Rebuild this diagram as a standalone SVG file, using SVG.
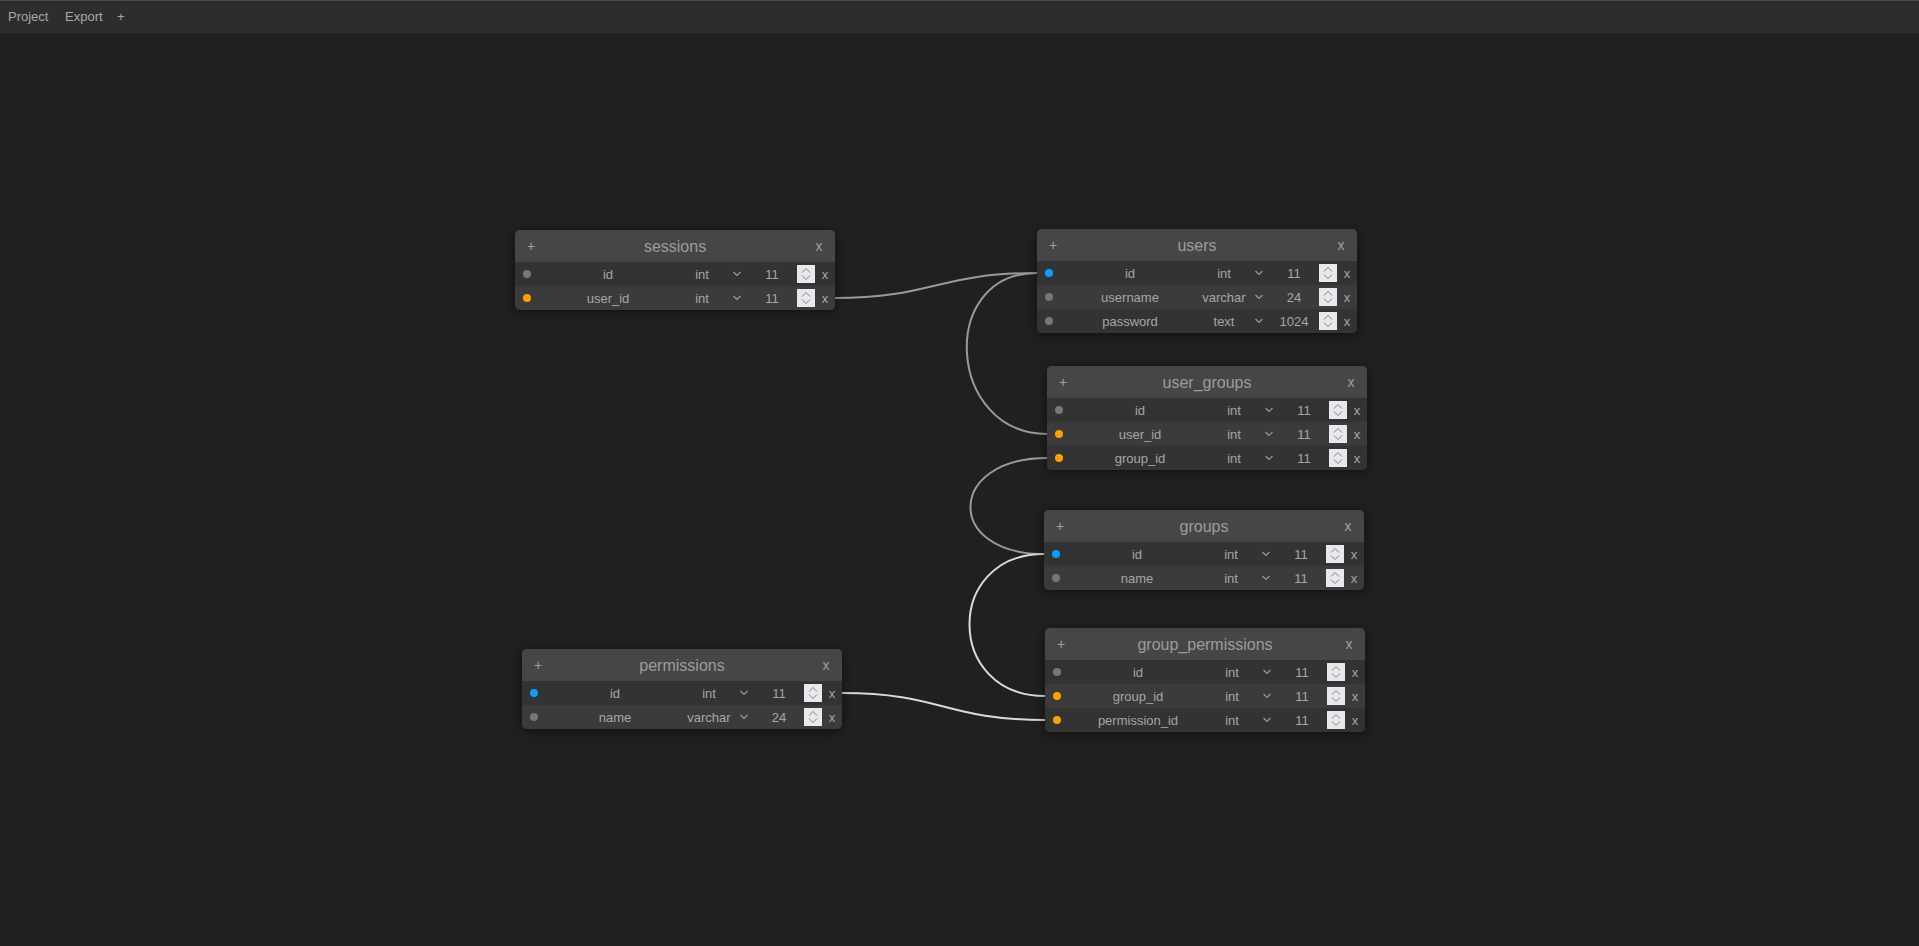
<svg xmlns="http://www.w3.org/2000/svg" xmlns:xlink="http://www.w3.org/1999/xlink" width="1919" height="946" viewBox="0 0 1919 946">
<style>
text{font-family:"Liberation Sans",Arial,sans-serif}
.bar{fill:#2d2d2d}
.menu{font-size:13px;fill:#a8a8a8}
.bg{fill:#3b3b3b}
.hdr{fill:#464646}
.odd{fill:#333333}
.title{font-size:16px;fill:#9c9c9c;text-anchor:middle}
.hx{font-size:14px;fill:#a0a0a0;text-anchor:middle}
.t{font-size:13px;fill:#a6a6a6;text-anchor:middle}
.g{fill:#777777}.b{fill:#0a9eff}.o{fill:#ffa000}
.chev{fill:none;stroke:#9a9a9a;stroke-width:1.2}
.link{fill:none;stroke-width:2}
.dim{stroke:#9a9a9a}.lit{stroke:#dadada}
</style>
<defs>
<filter id="sh" x="-20%" y="-30%" width="140%" height="160%">
<feDropShadow dx="0" dy="2" stdDeviation="6" flood-color="#000" flood-opacity="0.55"/>
</filter>
<clipPath id="c80" clipPathUnits="userSpaceOnUse"><rect x="0" y="0" width="320" height="80" rx="5"/></clipPath>
<clipPath id="c104" clipPathUnits="userSpaceOnUse"><rect x="0" y="0" width="320" height="104" rx="5"/></clipPath>
<g id="spin">
<rect x="0" y="0" width="18" height="18" fill="#e9e9ed"/>
<path d="M5,7.5 L9,3.5 L13,7.5 M5,10.5 L9,14.5 L13,10.5" fill="none" stroke="#808080" stroke-width="1"/>
</g>
<path id="dd" d="M218.5,-2 L222,1.5 L225.5,-2" class="chev"/>
</defs>
<rect x="0" y="0" width="1919" height="946" fill="#202020"/>
<g id="menubar">
<rect class="bar" x="0" y="0" width="1919" height="33"/>
<rect x="0" y="0" width="1919" height="1" fill="#4a4a4a"/>
<text class="menu" x="8" y="21">Project</text>
<text class="menu" x="65" y="21">Export</text>
<text class="menu" x="117" y="21">+</text>
</g>
<g id="connectors">
<path class="link dim" d="M834,298 C934,298 937,273 1037,273"/>
<path class="link dim" d="M1037,273 C937,273 947,434 1047,434"/>
<path class="link dim" d="M1047,458 C947,458 944,554 1044,554"/>
<path class="link lit" d="M1044,554 C944,554 945,696 1045,696"/>
<path class="link lit" d="M842,693 C942,693 945,720 1045,720"/>
</g>
<g id="sessions" transform="translate(515,230)">
<rect class="bg" width="320" height="80" rx="5" filter="url(#sh)"/>
<g clip-path="url(#c80)">
<rect class="hdr" width="320" height="32"/>
<rect class="odd" y="32" width="320" height="24"/>
</g>
<text class="hx" x="16" y="21">+</text><text class="title" x="160" y="22">sessions</text><text class="hx" x="304" y="21">x</text>
<circle class="g" cx="12" cy="44" r="4"/><text class="t" x="93" y="48.5">id</text><text class="t" x="187" y="48.5">int</text><use href="#dd" y="44"/><text class="t" x="257" y="48.5">11</text><use href="#spin" x="282" y="35"/><text class="t" x="310" y="48.5">x</text>
<circle class="o" cx="12" cy="68" r="4"/><text class="t" x="93" y="72.5">user_id</text><text class="t" x="187" y="72.5">int</text><use href="#dd" y="68"/><text class="t" x="257" y="72.5">11</text><use href="#spin" x="282" y="59"/><text class="t" x="310" y="72.5">x</text>
</g>
<g id="users" transform="translate(1037,229)">
<rect class="bg" width="320" height="104" rx="5" filter="url(#sh)"/>
<g clip-path="url(#c104)">
<rect class="hdr" width="320" height="32"/>
<rect class="odd" y="32" width="320" height="24"/>
<rect class="odd" y="80" width="320" height="24"/>
</g>
<text class="hx" x="16" y="21">+</text><text class="title" x="160" y="22">users</text><text class="hx" x="304" y="21">x</text>
<circle class="b" cx="12" cy="44" r="4"/><text class="t" x="93" y="48.5">id</text><text class="t" x="187" y="48.5">int</text><use href="#dd" y="44"/><text class="t" x="257" y="48.5">11</text><use href="#spin" x="282" y="35"/><text class="t" x="310" y="48.5">x</text>
<circle class="g" cx="12" cy="68" r="4"/><text class="t" x="93" y="72.5">username</text><text class="t" x="187" y="72.5">varchar</text><use href="#dd" y="68"/><text class="t" x="257" y="72.5">24</text><use href="#spin" x="282" y="59"/><text class="t" x="310" y="72.5">x</text>
<circle class="g" cx="12" cy="92" r="4"/><text class="t" x="93" y="96.5">password</text><text class="t" x="187" y="96.5">text</text><use href="#dd" y="92"/><text class="t" x="257" y="96.5">1024</text><use href="#spin" x="282" y="83"/><text class="t" x="310" y="96.5">x</text>
</g>
<g id="user_groups" transform="translate(1047,366)">
<rect class="bg" width="320" height="104" rx="5" filter="url(#sh)"/>
<g clip-path="url(#c104)">
<rect class="hdr" width="320" height="32"/>
<rect class="odd" y="32" width="320" height="24"/>
<rect class="odd" y="80" width="320" height="24"/>
</g>
<text class="hx" x="16" y="21">+</text><text class="title" x="160" y="22">user_groups</text><text class="hx" x="304" y="21">x</text>
<circle class="g" cx="12" cy="44" r="4"/><text class="t" x="93" y="48.5">id</text><text class="t" x="187" y="48.5">int</text><use href="#dd" y="44"/><text class="t" x="257" y="48.5">11</text><use href="#spin" x="282" y="35"/><text class="t" x="310" y="48.5">x</text>
<circle class="o" cx="12" cy="68" r="4"/><text class="t" x="93" y="72.5">user_id</text><text class="t" x="187" y="72.5">int</text><use href="#dd" y="68"/><text class="t" x="257" y="72.5">11</text><use href="#spin" x="282" y="59"/><text class="t" x="310" y="72.5">x</text>
<circle class="o" cx="12" cy="92" r="4"/><text class="t" x="93" y="96.5">group_id</text><text class="t" x="187" y="96.5">int</text><use href="#dd" y="92"/><text class="t" x="257" y="96.5">11</text><use href="#spin" x="282" y="83"/><text class="t" x="310" y="96.5">x</text>
</g>
<g id="groups" transform="translate(1044,510)">
<rect class="bg" width="320" height="80" rx="5" filter="url(#sh)"/>
<g clip-path="url(#c80)">
<rect class="hdr" width="320" height="32"/>
<rect class="odd" y="32" width="320" height="24"/>
</g>
<text class="hx" x="16" y="21">+</text><text class="title" x="160" y="22">groups</text><text class="hx" x="304" y="21">x</text>
<circle class="b" cx="12" cy="44" r="4"/><text class="t" x="93" y="48.5">id</text><text class="t" x="187" y="48.5">int</text><use href="#dd" y="44"/><text class="t" x="257" y="48.5">11</text><use href="#spin" x="282" y="35"/><text class="t" x="310" y="48.5">x</text>
<circle class="g" cx="12" cy="68" r="4"/><text class="t" x="93" y="72.5">name</text><text class="t" x="187" y="72.5">int</text><use href="#dd" y="68"/><text class="t" x="257" y="72.5">11</text><use href="#spin" x="282" y="59"/><text class="t" x="310" y="72.5">x</text>
</g>
<g id="group_permissions" transform="translate(1045,628)">
<rect class="bg" width="320" height="104" rx="5" filter="url(#sh)"/>
<g clip-path="url(#c104)">
<rect class="hdr" width="320" height="32"/>
<rect class="odd" y="32" width="320" height="24"/>
<rect class="odd" y="80" width="320" height="24"/>
</g>
<text class="hx" x="16" y="21">+</text><text class="title" x="160" y="22">group_permissions</text><text class="hx" x="304" y="21">x</text>
<circle class="g" cx="12" cy="44" r="4"/><text class="t" x="93" y="48.5">id</text><text class="t" x="187" y="48.5">int</text><use href="#dd" y="44"/><text class="t" x="257" y="48.5">11</text><use href="#spin" x="282" y="35"/><text class="t" x="310" y="48.5">x</text>
<circle class="o" cx="12" cy="68" r="4"/><text class="t" x="93" y="72.5">group_id</text><text class="t" x="187" y="72.5">int</text><use href="#dd" y="68"/><text class="t" x="257" y="72.5">11</text><use href="#spin" x="282" y="59"/><text class="t" x="310" y="72.5">x</text>
<circle class="o" cx="12" cy="92" r="4"/><text class="t" x="93" y="96.5">permission_id</text><text class="t" x="187" y="96.5">int</text><use href="#dd" y="92"/><text class="t" x="257" y="96.5">11</text><use href="#spin" x="282" y="83"/><text class="t" x="310" y="96.5">x</text>
</g>
<g id="permissions" transform="translate(522,649)">
<rect class="bg" width="320" height="80" rx="5" filter="url(#sh)"/>
<g clip-path="url(#c80)">
<rect class="hdr" width="320" height="32"/>
<rect class="odd" y="32" width="320" height="24"/>
</g>
<text class="hx" x="16" y="21">+</text><text class="title" x="160" y="22">permissions</text><text class="hx" x="304" y="21">x</text>
<circle class="b" cx="12" cy="44" r="4"/><text class="t" x="93" y="48.5">id</text><text class="t" x="187" y="48.5">int</text><use href="#dd" y="44"/><text class="t" x="257" y="48.5">11</text><use href="#spin" x="282" y="35"/><text class="t" x="310" y="48.5">x</text>
<circle class="g" cx="12" cy="68" r="4"/><text class="t" x="93" y="72.5">name</text><text class="t" x="187" y="72.5">varchar</text><use href="#dd" y="68"/><text class="t" x="257" y="72.5">24</text><use href="#spin" x="282" y="59"/><text class="t" x="310" y="72.5">x</text>
</g>
</svg>
